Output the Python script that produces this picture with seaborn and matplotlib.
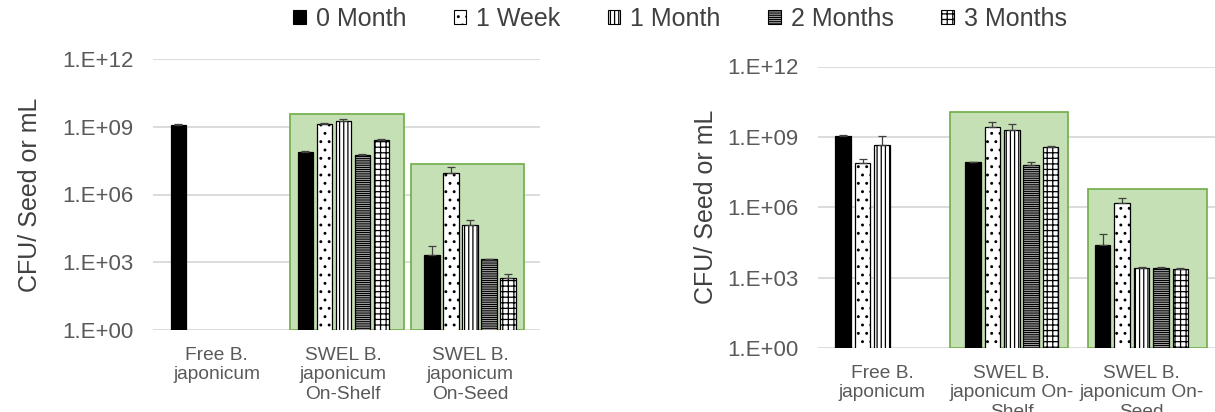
import numpy as np
import pandas as pd
import matplotlib
matplotlib.use("Agg")
import matplotlib.pyplot as plt
from matplotlib.container import BarContainer
from matplotlib.patches import Patch, Rectangle
from matplotlib.ticker import FixedLocator, FixedFormatter, NullLocator
import seaborn as sns

nan = np.nan

# Storage times (hue levels)
series = ["0 Month", "1 Week", "1 Month", "2 Months", "3 Months"]

# Category labels for the two panels
labels_a = ["Free B.\njaponicum", "SWEL B.\njaponicum\nOn-Shelf", "SWEL B.\njaponicum\nOn-Seed"]
labels_b = ["Free B.\njaponicum", "SWEL B.\njaponicum On-\nShelf", "SWEL B.\njaponicum On-\nSeed"]

# Panel A: CFU per seed or mL (rows follow the series order)
a_free = [1.2e9, nan, nan, nan, nan]
a_shelf = [7.8e7, 1.3e9, 1.8e9, 5.6e7, 2.6e8]
a_seed = [2.0e3, 9.1e6, 4.3e4, 1.35e3, 1.95e2]
a_free_err = [1.0e8, 0, 0, 0, 0]
a_shelf_err = [4e6, 2e8, 3e8, 5e6, 2e7]
a_seed_err = [3.5e3, 7.5e6, 3.5e4, 1.0e2, 1.0e2]

# Panel B: CFU per seed or mL
b_free = [1.1e9, 7.8e7, 4.6e8, nan, nan]
b_shelf = [8.5e7, 2.6e9, 2.0e9, 6.3e7, 3.7e8]
b_seed = [2.5e4, 1.5e6, 2.6e3, 2.6e3, 2.3e3]
b_free_err = [5e7, 3.7e7, 6.4e8, 0, 0]
b_shelf_err = [3e6, 1.8e9, 1.5e9, 2.2e7, 2e7]
b_seed_err = [4.7e4, 1.0e6, 2e2, 2e2, 2e2]

# y axis ticks
ytick_values = [1e0, 1e3, 1e6, 1e9, 1e12]
ytick_labels = ["1.E+00", "1.E+03", "1.E+06", "1.E+09", "1.E+12"]
ylabel = "CFU/ Seed or mL"

# bar styling per storage time
bar_face = ["black", "white", "white", "white", "white"]
bar_hatch = [None, "..", "||||", "---------", "+++"]

TEXT = "#595959"
GRID = "#d9d9d9"
GREEN_FILL = "#c5e0b4"
GREEN_EDGE = "#70ad47"

sns.set_theme(style="white")
plt.rcParams["font.family"] = ["Liberation Sans", "DejaVu Sans"]
plt.rcParams["hatch.linewidth"] = 0.9

fig = plt.figure(figsize=(12.15, 4.12), dpi=100)
ax_a = fig.add_axes([153 / 1215, 1 - 330 / 412, 387 / 1215, 271 / 412])
ax_b = fig.add_axes([818 / 1215, 1 - 348 / 412, 397 / 1215, 281.5 / 412])


def long_frame(labels, rows):
    recs = []
    for lab, vals in zip(labels, rows):
        for s, v in zip(series, vals):
            if not np.isnan(v):
                recs.append({"group": lab, "series": s, "cfu": v})
    return pd.DataFrame(recs)


def draw_panel(ax, labels, rows, errs, xlim, boxes, ylabel_x):
    df = long_frame(labels, rows)
    sns.barplot(data=df, x="group", y="cfu", hue="series", order=labels,
                hue_order=series, palette={s: "white" for s in series},
                width=0.75, gap=0.2, errorbar=None, legend=False, ax=ax,
                zorder=3)
    ax.set_yscale("log")
    ax.set_ylim(1, 1e12)
    ax.set_xlim(*xlim)

    bars = [c for c in ax.containers if isinstance(c, BarContainer)]
    for i, cont in enumerate(bars):
        for p in cont.patches:
            p.set_facecolor(bar_face[i])
            p.set_edgecolor("black")
            p.set_linewidth(0.9)
            if bar_hatch[i]:
                p.set_hatch(bar_hatch[i])
            xc = p.get_x() + p.get_width() / 2
            g = int(round(xc))
            err = errs[g][i]
            if err > 0:
                ax.errorbar(xc, p.get_height(), yerr=[[0], [err]], fmt="none",
                            ecolor="#404040", elinewidth=0.9, capsize=3,
                            capthick=0.9, zorder=4)

    # shaded boxes around the SWEL groups
    for (x0, x1, top) in boxes:
        ax.add_patch(Rectangle((x0, 1), x1 - x0, top - 1, facecolor=GREEN_FILL,
                               edgecolor=GREEN_EDGE, linewidth=1.2, zorder=2))

    ax.yaxis.set_major_locator(FixedLocator(ytick_values))
    ax.yaxis.set_major_formatter(FixedFormatter(ytick_labels))
    ax.yaxis.set_minor_locator(NullLocator())
    ax.grid(axis="y", color=GRID, linewidth=1.3, zorder=0)
    ax.set_axisbelow(True)
    for side in ["top", "right", "left", "bottom"]:
        ax.spines[side].set_visible(False)
    ax.tick_params(axis="y", length=0, pad=14, labelsize=16, labelcolor=TEXT)
    ax.tick_params(axis="x", length=0, pad=12, labelsize=13.8, labelcolor=TEXT)
    for t in ax.get_xticklabels():
        t.set_linespacing(1.2)
    ax.set_xlabel("")
    ax.set_ylabel(ylabel, fontsize=18, color="#404040")
    ax.yaxis.label.set_va("center")
    ax.yaxis.set_label_coords(ylabel_x, 0.5)


draw_panel(ax_a, labels_a, [a_free, a_shelf, a_seed],
           [a_free_err, a_shelf_err, a_seed_err],
           xlim=(-0.501, 2.552),
           boxes=[(0.580, 1.479, 10 ** 9.56), (1.535, 2.426, 10 ** 7.36)],
           ylabel_x=(30 - 153) / 387)

draw_panel(ax_b, labels_b, [b_free, b_shelf, b_seed],
           [b_free_err, b_shelf_err, b_seed_err],
           xlim=(-0.493, 2.566),
           boxes=[(0.524, 1.434, 10 ** 10.06), (1.588, 2.505, 10 ** 6.78)],
           ylabel_x=(706 - 818) / 397)

handles = [Patch(facecolor=bar_face[i], edgecolor="black", hatch=bar_hatch[i],
                 linewidth=0.8, label=s) for i, s in enumerate(series)]
fig.legend(handles=handles, loc="center", bbox_to_anchor=(0.5595, 1 - 19 / 412),
           ncol=5, frameon=False, fontsize=18, handlelength=0.5,
           handleheight=0.5, handletextpad=0.4, columnspacing=1.9,
           labelcolor="#404040")

fig.savefig("out.png", dpi=100)
